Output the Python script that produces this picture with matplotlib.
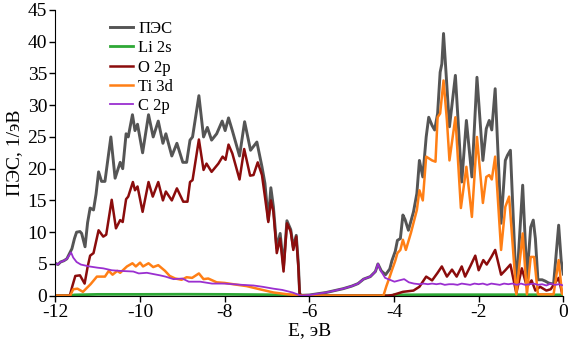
import matplotlib
matplotlib.use("Agg")
import matplotlib.pyplot as plt

# ---- data ----
tot_E = [-12.00, -11.94, -11.88, -11.80, -11.73, -11.67, -11.61, -11.55, -11.50, -11.42, -11.38, -11.30,
         -11.24, -11.18, -11.10, -11.04, -10.98, -10.91, -10.83, -10.69, -10.59, -10.47, -10.41, -10.33,
         -10.28, -10.18, -10.12, -10.06, -9.94, -9.80, -9.69, -9.57, -9.46, -9.39, -9.25, -9.13, -8.99,
         -8.90, -8.82, -8.76, -8.61, -8.50, -8.41, -8.31, -8.19, -8.06, -7.99, -7.91, -7.82, -7.65, -7.53,
         -7.39, -7.24, -7.12, -7.05, -6.97, -6.91, -6.85, -6.77, -6.69, -6.61, -6.53, -6.44, -6.38, -6.31,
         -6.26, -6.23, -6.20, -6.00, -5.80, -5.60, -5.40, -5.20, -5.00, -4.85, -4.72, -4.56, -4.44, -4.38,
         -4.30, -4.20, -4.10, -4.05, -3.97, -3.92, -3.85, -3.79, -3.74, -3.66, -3.54, -3.46, -3.40, -3.32,
         -3.24, -3.18, -3.10, -3.04, -2.97, -2.91, -2.87, -2.83, -2.75, -2.69, -2.55, -2.40, -2.29, -2.16,
         -2.04, -1.90, -1.82, -1.75, -1.69, -1.61, -1.47, -1.37, -1.32, -1.25, -1.11, -0.96, -0.86, -0.77,
         -0.71, -0.66, -0.60, -0.50, -0.43, -0.35, -0.23, -0.11, -0.05, 0.00]
tot_V = [5.1, 4.9, 5.3, 5.5, 5.8, 6.6, 7.4, 9.0, 10.0, 10.1, 9.8, 7.7,
         11.5, 13.8, 13.5, 16.0, 19.5, 18.0, 18.0, 25.0, 18.5, 21.0, 20.0, 25.5,
         25.0, 28.5, 26.0, 27.0, 22.5, 28.5, 25.0, 27.5, 24.0, 25.5, 22.0, 24.0, 21.0,
         21.0, 24.5, 25.0, 31.5, 25.0, 26.5, 24.5, 25.5, 27.5, 26.0, 28.0, 26.0, 22.0, 27.4,
         22.9, 24.2, 20.3, 17.7, 11.9, 17.0, 14.0, 7.5, 9.8, 4.6, 11.8, 10.4, 7.6, 9.5,
         5.0, 0.4, 0.05, 0.1, 0.3, 0.5, 0.8, 1.1, 1.5, 1.9, 2.6, 3.0, 3.8, 5.0,
         3.9, 3.3, 4.2, 5.5, 7.0, 8.7, 9.0, 12.7, 12.0, 10.3, 13.2, 16.1, 21.3, 18.7,
         25.0, 28.1, 26.8, 26.1, 28.7, 35.2, 36.5, 41.3, 32.9, 26.6, 34.7, 17.9, 27.6, 18.7,
         34.4, 21.3, 26.3, 27.6, 26.1, 32.6, 11.4, 21.3, 22.1, 22.9, 0.9, 17.4, 2.8, 10.8,
         11.9, 9.0, 2.5, 2.5, 2.3, 2.0, 1.8, 11.1, 5.5, 3.4]

li_E = [-12.0, -11.65, -11.55, -11.0, -10.0, -9.0, -8.0, -7.0, -6.3, -6.2, -4.05, -4.0, -3.0, -2.0, -1.0, 0.0]
li_V = [0.0, 0.0, 0.12, 0.2, 0.2, 0.22, 0.2, 0.15, 0.1, 0.0, 0.0, 0.12, 0.15, 0.15, 0.15, 0.12]

o_E = [-12.0, -11.66, -11.60, -11.53, -11.42, -11.31, -11.24, -11.18, -11.10, -10.98, -10.87, -10.80,
       -10.67, -10.57, -10.47, -10.41, -10.33, -10.28, -10.17, -10.12, -10.06, -9.94, -9.80, -9.70,
       -9.57, -9.46, -9.39, -9.25, -9.13, -8.98, -8.88, -8.82, -8.76, -8.61, -8.50, -8.43, -8.31,
       -8.15, -8.05, -7.98, -7.91, -7.82, -7.65, -7.54, -7.40, -7.32, -7.22, -7.12, -7.05, -6.97,
       -6.91, -6.85, -6.77, -6.69, -6.61, -6.53, -6.44, -6.38, -6.31, -6.26, -6.23, -6.20,
       -4.15, -4.03, -3.79, -3.54, -3.40, -3.24, -3.10, -2.97, -2.87, -2.75, -2.63, -2.52, -2.40,
       -2.32, -2.20, -2.08, -2.00, -1.89, -1.81, -1.70, -1.61, -1.47, -1.37, -1.25, -1.11, -0.98,
       -0.86, -0.75, -0.66, -0.55, -0.40, -0.30, -0.11, -0.03, 0.00]
o_V = [0.0, 0.0, 1.5, 3.1, 3.2, 1.9, 4.5, 6.3, 6.7, 10.3, 9.3, 9.6,
       15.1, 10.6, 11.9, 11.6, 15.2, 15.6, 17.9, 16.6, 17.2, 13.2, 17.9, 15.6,
       17.9, 15.0, 16.4, 15.0, 16.9, 14.8, 14.8, 17.9, 18.2, 24.6, 19.8, 20.8, 19.5,
       20.8, 21.9, 21.4, 23.8, 22.4, 18.3, 23.1, 18.9, 19.0, 21.0, 19.0, 15.6, 11.6,
       15.0, 13.2, 6.7, 9.0, 3.8, 11.4, 10.1, 7.2, 9.3, 4.5, 0.3, 0.0,
       0.0, 0.1, 0.6, 0.8, 1.4, 3.0, 2.4, 3.6, 4.6, 3.0, 4.1, 3.0, 4.6,
       3.0, 4.6, 6.3, 4.0, 5.6, 4.9, 6.1, 7.2, 3.3, 4.0, 4.9, 0.4, 4.3,
       1.4, 2.4, 0.8, 1.4, 0.8, 1.0, 2.8, 0.4, 0.3]

ti_E = [-12.0, -11.65, -11.58, -11.48, -11.35, -11.26, -11.17, -11.02, -10.95, -10.83, -10.74, -10.65,
        -10.54, -10.47, -10.31, -10.18, -10.10, -10.00, -9.93, -9.80, -9.69, -9.57, -9.41, -9.30,
        -9.17, -9.02, -8.90, -8.77, -8.61, -8.50, -8.39, -8.19, -8.00, -7.80, -7.48, -7.17, -6.85,
        -6.50, -6.20, -4.25, -4.18, -4.10, -4.05, -3.97, -3.92, -3.85, -3.79, -3.72, -3.60, -3.46,
        -3.40, -3.32, -3.24, -3.10, -3.02, -2.97, -2.91, -2.83, -2.75, -2.69, -2.55, -2.42, -2.29,
        -2.16, -2.04, -1.90, -1.82, -1.75, -1.69, -1.61, -1.47, -1.37, -1.28, -1.11, -0.96, -0.86,
        -0.77, -0.69, -0.60, -0.23, -0.11, -0.03, 0.00]
ti_V = [0.0, 0.0, 1.0, 1.1, 0.6, 1.2, 1.8, 3.0, 3.0, 3.0, 3.9, 3.3,
        3.9, 3.6, 4.6, 5.1, 4.6, 5.2, 4.6, 5.1, 4.5, 4.8, 3.9, 3.1,
        2.7, 2.5, 2.9, 2.8, 3.5, 2.6, 2.7, 2.1, 2.0, 1.8, 1.5, 1.0, 0.5,
        0.2, 0.0, 0.0, 1.5, 3.0, 4.0, 5.5, 6.7, 7.2, 8.8, 7.2, 9.9, 13.5,
        16.6, 15.0, 21.9, 21.3, 21.1, 28.1, 28.7, 33.9, 27.6, 21.3, 28.1, 13.8, 20.3,
        12.4, 25.0, 14.6, 18.7, 19.0, 18.3, 21.9, 7.2, 14.0, 15.6, 0.2, 9.8, 0.2,
        6.1, 6.1, 0.2, 0.2, 5.6, 0.3, 0.2]

c_E = [-12.0, -11.95, -11.88, -11.80, -11.73, -11.66, -11.63, -11.58, -11.50, -11.40, -11.20, -11.00,
       -10.87, -10.67, -10.47, -10.16, -10.03, -9.84, -9.53, -9.40, -9.21, -9.00, -8.85, -8.58, -8.30,
       -8.00, -7.59, -7.32, -7.11, -6.85, -6.64, -6.40, -6.20, -6.00, -5.80, -5.60, -5.40, -5.20,
       -5.00, -4.85, -4.72, -4.56, -4.44, -4.38, -4.32, -4.21, -4.10, -3.99, -3.88, -3.76, -3.65,
       -3.53, -3.40, -3.30, -3.20, -3.10, -3.00, -2.90, -2.80, -2.70, -2.60, -2.50, -2.40, -2.30,
       -2.20, -2.10, -2.00, -1.90, -1.80, -1.70, -1.60, -1.50, -1.40, -1.30, -1.20, -1.10, -1.00,
       -0.90, -0.80, -0.70, -0.60, -0.50, -0.40, -0.30, -0.20, -0.10, 0.00]
c_V = [5.1, 4.9, 5.3, 5.5, 5.8, 6.5, 6.8, 6.0, 5.3, 4.9, 4.6, 4.4,
       4.3, 4.0, 3.9, 3.8, 3.5, 3.6, 3.2, 3.0, 2.6, 2.7, 2.2, 2.2, 1.9,
       1.9, 1.7, 1.6, 1.4, 1.1, 0.9, 0.5, 0.0, 0.1, 0.3, 0.5, 0.8, 1.1,
       1.5, 1.9, 2.6, 3.0, 3.8, 5.0, 4.0, 2.8, 2.5, 2.2, 2.4, 2.6, 2.1,
       1.9, 1.8, 1.9, 1.8, 1.9, 1.8, 1.9, 1.7, 1.8, 1.8, 1.7, 1.9, 1.8,
       1.7, 1.9, 1.8, 1.9, 1.7, 1.9, 1.8, 1.7, 1.9, 1.8, 1.9, 1.7, 1.9,
       1.7, 1.8, 1.9, 1.7, 1.8, 1.6, 1.9, 1.7, 1.8, 1.6]

labels = ["ПЭС", "Li 2s", "O 2p", "Ti 3d", "C 2p"]
colors = ["#555555", "#2ea836", "#8b0c0c", "#ff7f15", "#9a2fd0"]
widths = [2.1, 2.0, 1.8, 1.8, 1.3]
x_ticks = [-12, -10, -8, -6, -4, -2, 0]
y_ticks = [0, 5, 10, 15, 20, 25, 30, 35, 40, 45]

plt.rcParams['font.family'] = ['Liberation Serif', 'DejaVu Serif']

fig = plt.figure(figsize=(5.69, 3.47), dpi=100)
ax = fig.add_axes([0.0974, 0.148, 0.8926, 0.8232])

series = [(tot_E, tot_V), (li_E, li_V), (o_E, o_V), (ti_E, ti_V), (c_E, c_V)]
for (e, v), lab, col, lw in zip(series, labels, colors, widths):
    ax.plot(e, v, color=col, lw=lw, label=lab, solid_joinstyle='round')

ax.set_xlim(-12, 0)
ax.set_ylim(0, 45)
ax.set_xticks(x_ticks)
ax.set_xticklabels([str(t) for t in x_ticks])
ax.set_yticks(y_ticks)
ax.tick_params(labelsize=14, length=4, width=1, direction='out', pad=2)
for s in ['top', 'right']:
    ax.spines[s].set_visible(False)
ax.set_xlabel("E, эВ", fontsize=14, labelpad=1)
ax.set_ylabel("ПЭС, 1/эВ", fontsize=14, labelpad=3)

leg = ax.legend(loc='upper left', bbox_to_anchor=(0.094, 0.985), frameon=False, fontsize=12,
                handlelength=1.4, handletextpad=0.3, labelspacing=0.2, borderaxespad=0)

fig.savefig("out.png", dpi=100)
